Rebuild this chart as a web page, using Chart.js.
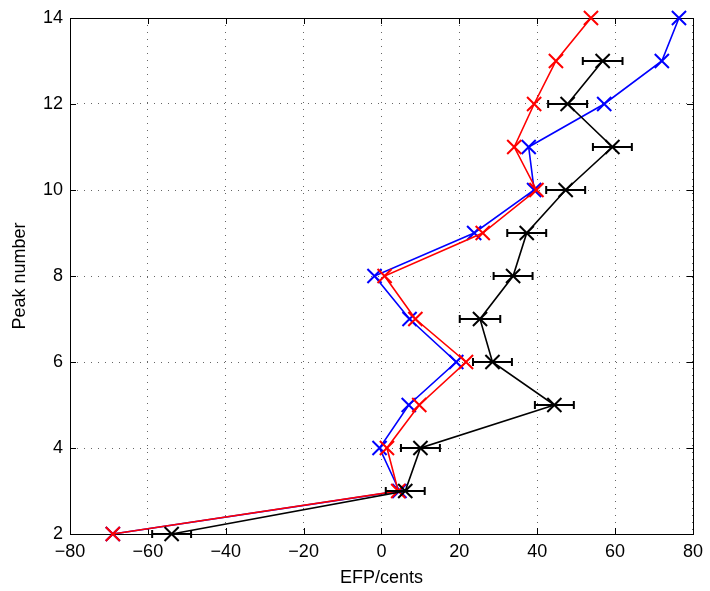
<!DOCTYPE html>
<html>
<head>
<meta charset="utf-8">
<script src="https://cdn.jsdelivr.net/npm/chart.js@4.4.0/dist/chart.umd.min.js"></script>
<style>
  html, body { margin: 0; padding: 0; background: #fff; }
</style>
</head>
<body>
<canvas id="chart1" width="710" height="591"></canvas>
<script>
(function() {
    // peak numbers (y) and EFP values in cents (x)
    const peaks = [2, 3, 4, 5, 6, 7, 8, 9, 10, 11, 12, 13, 14]
    const blueEfp = [-69, 4.6, -0.5, 7.0, 19.2, 7.2, -1.8, 23.8, 39.2, 37.8, 57.2, 72.0, 76.4]
    const redEfp = [-69, 4.3, 1.4, 9.7, 21.7, 8.7, 0.8, 26.0, 39.8, 34.1, 39.2, 44.8, 53.8]

    const blackPeaks = [2, 3, 4, 5, 6, 7, 8, 9, 10, 11, 12, 13]
    const blackEfp = [-53.9, 6.1, 10.0, 44.4, 28.5, 25.3, 33.8, 37.3, 47.3, 59.3, 47.8, 56.8]
    const blackErr = [5.0, 5.0, 5.0, 5.0, 5.0, 5.2, 5.0, 5.0, 5.0, 5.0, 5.0, 5.1]

    const xTicks = [-80, -60, -40, -20, 0, 20, 40, 60, 80]
    const yTicks = [2, 4, 6, 8, 10, 12, 14]

    const FONT = "'Liberation Sans', Arial, Helvetica, sans-serif"

    function points(xs, ys) {
        return xs.map((x, i) => ({ x: x, y: ys[i] }))
    }

    function series(label, color, data, order) {
        return {
            label: label,
            data: data,
            showLine: true,
            borderColor: color,
            backgroundColor: color,
            borderWidth: 1.6,
            pointStyle: "crossRot",
            pointRadius: 10,
            pointBorderWidth: 2,
            pointBorderColor: color,
            clip: false,
            order: order,
        }
    }

    // matlab-like box with inward tick marks
    const frame = {
        id: "frame",
        beforeDatasetsDraw(chart) {
            const { ctx, chartArea: a, scales } = chart
            ctx.save()
            ctx.strokeStyle = "#000"
            ctx.lineWidth = 1
            ctx.beginPath()
            for (const v of xTicks) {
                const px = Math.round(scales.x.getPixelForValue(v)) + 0.5
                ctx.moveTo(px, a.bottom); ctx.lineTo(px, a.bottom - 6)
                ctx.moveTo(px, a.top); ctx.lineTo(px, a.top + 6)
            }
            for (const v of yTicks) {
                const py = Math.round(scales.y.getPixelForValue(v)) + 0.5
                ctx.moveTo(a.left, py); ctx.lineTo(a.left + 6, py)
                ctx.moveTo(a.right, py); ctx.lineTo(a.right - 6, py)
            }
            ctx.stroke()
            ctx.strokeRect(Math.round(a.left) + 0.5, Math.round(a.top) + 0.5,
                Math.round(a.right - a.left), Math.round(a.bottom - a.top))
            ctx.restore()
        }
    }

    // horizontal error bars for the black series
    const errorBars = {
        id: "errorBars",
        afterDatasetsDraw(chart) {
            const { ctx, scales } = chart
            ctx.save()
            ctx.strokeStyle = "#000"
            ctx.lineWidth = 2
            ctx.beginPath()
            blackEfp.forEach((x, i) => {
                const py = scales.y.getPixelForValue(blackPeaks[i])
                const x0 = scales.x.getPixelForValue(x - blackErr[i])
                const x1 = scales.x.getPixelForValue(x + blackErr[i])
                ctx.moveTo(x0, py); ctx.lineTo(x1, py)
                ctx.moveTo(x0, py - 4); ctx.lineTo(x0, py + 4)
                ctx.moveTo(x1, py - 4); ctx.lineTo(x1, py + 4)
            })
            ctx.stroke()
            ctx.restore()
        }
    }

    const chart = {
        type: "scatter",
        data: {
            datasets: [
                series("black", "#000000", points(blackEfp, blackPeaks), 0),
                series("red", "#ff0000", points(redEfp, peaks), 1),
                series("blue", "#0000ff", points(blueEfp, peaks), 2),
            ]
        },
        options: {
            responsive: false,
            animation: false,
            layout: { padding: { top: 18, right: 16, left: 0, bottom: 0 } },
            plugins: {
                legend: { display: false },
                tooltip: { enabled: false },
            },
            scales: {
                x: {
                    type: "linear",
                    min: -80, max: 80,
                    afterFit(s) { s.height = 57 },
                    afterBuildTicks(s) { s.ticks = xTicks.map(v => ({ value: v })) },
                    ticks: {
                        color: "#000",
                        padding: 7,
                        font: { family: FONT, size: 18 },
                        callback: v => String(v).replace("-", "\u2212"),
                    },
                    grid: {
                        color: "#666",
                        lineWidth: 1,
                        drawTicks: false,
                    },
                    border: { display: false, dash: [1, 6] },
                    title: {
                        display: true,
                        text: "EFP/cents",
                        color: "#000",
                        font: { family: FONT, size: 18 },
                        padding: { top: 0, bottom: 2 },
                    },
                },
                y: {
                    type: "linear",
                    min: 2, max: 14,
                    afterFit(s) { s.width = 70 },
                    afterBuildTicks(s) { s.ticks = yTicks.map(v => ({ value: v })) },
                    ticks: {
                        color: "#000",
                        padding: 7,
                        font: { family: FONT, size: 18 },
                    },
                    grid: {
                        color: "#666",
                        lineWidth: 1,
                        drawTicks: false,
                    },
                    border: { display: false, dash: [1, 6] },
                    title: {
                        display: true,
                        text: "Peak number",
                        color: "#000",
                        font: { family: FONT, size: 18 },
                        padding: { top: 9, bottom: 0 },
                    },
                },
            },
        },
        plugins: [frame, errorBars],
    }

    const ctx = document.getElementById("chart1").getContext("2d")
    new Chart(ctx, chart)
})()
</script>
</body>
</html>
